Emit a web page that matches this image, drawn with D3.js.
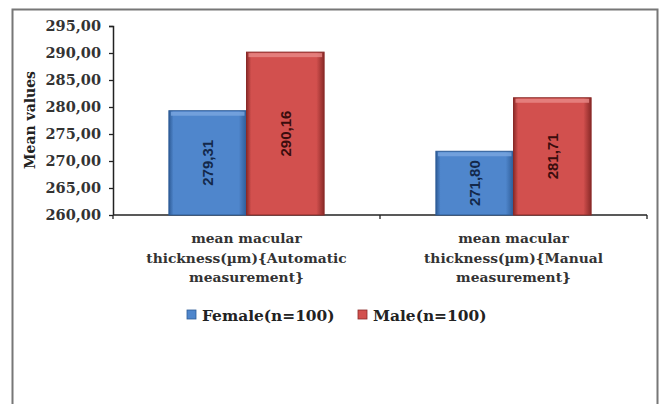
<!DOCTYPE html>
<html><head><meta charset="utf-8">
<script src="https://cdn.jsdelivr.net/npm/d3@7"></script>
<style>body{margin:0;background:#fff;}svg{display:block;}</style>
</head><body>
<script>
const categories = [
  ["mean macular", "thickness(\u00b5m){Automatic", "measurement}"],
  ["mean macular", "thickness(\u00b5m){Manual", "measurement}"]
];
const seriesNames = ["Female(n=100)", "Male(n=100)"];
const femaleValues = [279.31, 271.80];
const maleValues = [290.16, 281.71];
const yTicks = [260, 265, 270, 275, 280, 285, 290, 295];
const colors = ["#4f86cc", "#d2504e"];
const labelColors = ["#13284a", "#3a0d0d"];

(function () {
const W = 661, H = 404;
const svg = d3.select("body").append("svg").attr("width", W).attr("height", H);
const defs = svg.append("defs");
const dark = ["#2e5c97", "#8a2a28"];
const light = ["#7aa6e0", "#e98a88"];
colors.forEach((c, i) => {
  const g = defs.append("linearGradient").attr("id", "g" + i).attr("x1", 0).attr("x2", 1).attr("y1", 0).attr("y2", 0);
  g.append("stop").attr("offset", "0%").attr("stop-color", dark[i]);
  g.append("stop").attr("offset", "6%").attr("stop-color", c);
  g.append("stop").attr("offset", "90%").attr("stop-color", c);
  g.append("stop").attr("offset", "100%").attr("stop-color", dark[i]);
});

// frame
svg.append("path").attr("d", `M12.5,${H} V9.5 H657.5 V${H}`).attr("fill", "none").attr("stroke", "#777").attr("stroke-width", 2);

const pLeft = 113, pRight = 647, pTop = 26, pBottom = 215;
const x0 = d3.scaleBand().domain(d3.range(categories.length)).range([pLeft, pRight]).paddingInner(0).paddingOuter(0);
const x1 = d3.scaleBand().domain(d3.range(seriesNames.length)).range([0, x0.bandwidth()]).paddingOuter(0.72).paddingInner(0);
const y = d3.scaleLinear().domain([260, 295]).range([pBottom, pTop]);

const serif = "'DejaVu Serif', serif";

// y axis
const yAxis = d3.axisLeft(y).tickValues(yTicks).tickSize(4).tickFormat(d => d3.format(".2f")(d).replace(".", ","));
const ya = svg.append("g").attr("transform", `translate(${pLeft},0)`).call(yAxis);
ya.select(".domain").attr("stroke", "#222").attr("stroke-width", 1.5).attr("d", `M-4,${pTop}.5H0.5V${pBottom}`);
ya.selectAll(".tick line").attr("stroke", "#222").attr("stroke-width", 1.3);
ya.selectAll(".tick text").attr("x", -12).attr("font-family", serif).attr("font-weight", "bold").attr("font-size", 14.5).attr("fill", "#333");

// x axis
const xa = svg.append("g").attr("transform", `translate(0,${pBottom})`);
xa.append("line").attr("x1", pLeft).attr("x2", pRight).attr("stroke", "#222").attr("stroke-width", 1.5);
[pLeft, ...categories.map((d, i) => x0(i) + x0.bandwidth())].forEach(v => {
  xa.append("line").attr("x1", v).attr("x2", v).attr("y1", 0).attr("y2", 4).attr("stroke", "#222").attr("stroke-width", 1.3);
});

// bars
const valuesBySeries = [femaleValues, maleValues];
categories.forEach((cat, ci) => {
  seriesNames.forEach((s, si) => {
    const v = valuesBySeries[si][ci];
    const bx = x0(ci) + x1(si), bw = x1.bandwidth();
    const by = y(v), bh = y(260) - y(v);
    const g = svg.append("g");
    g.append("rect").attr("x", bx).attr("y", by).attr("width", bw).attr("height", bh)
      .attr("fill", `url(#g${si})`).attr("stroke", dark[si]).attr("stroke-width", 1);
    g.append("rect").attr("x", bx + 2).attr("y", by + 1).attr("width", bw - 4).attr("height", 4)
      .attr("fill", light[si]).attr("opacity", 0.8);
    g.append("text")
      .attr("transform", `translate(${bx + bw / 2},${by + bh / 2}) rotate(-90)`)
      .attr("text-anchor", "middle").attr("dy", "0.35em")
      .attr("font-family", "'Liberation Sans', Arial, sans-serif").attr("font-weight", "bold").attr("font-size", 15)
      .attr("fill", labelColors[si])
      .text(d3.format(".2f")(v).replace(".", ","));
  });
  const t = svg.append("text").attr("text-anchor", "middle").attr("font-family", serif)
    .attr("font-weight", "bold").attr("font-size", 13.8).attr("fill", "#333");
  cat.forEach((line, li) => {
    t.append("tspan").attr("x", x0(ci) + x0.bandwidth() / 2).attr("y", 243 + li * 19.5).text(line);
  });
});

// y title
svg.append("text").attr("transform", "translate(35,120) rotate(-90)").attr("text-anchor", "middle")
  .attr("font-family", serif).attr("font-weight", "bold").attr("font-size", 14).attr("fill", "#222").text("Mean values");

// legend
const legX = [187, 358];
seriesNames.forEach((s, i) => {
  svg.append("rect").attr("x", legX[i]).attr("y", 310).attr("width", 9).attr("height", 9)
    .attr("fill", colors[i]).attr("stroke", dark[i]).attr("stroke-width", 0.8);
  svg.append("text").attr("x", legX[i] + 15).attr("y", 321).attr("font-family", serif)
    .attr("font-weight", "bold").attr("font-size", 15.4).attr("fill", "#222").text(s);
});
})();
</script>
</body></html>
